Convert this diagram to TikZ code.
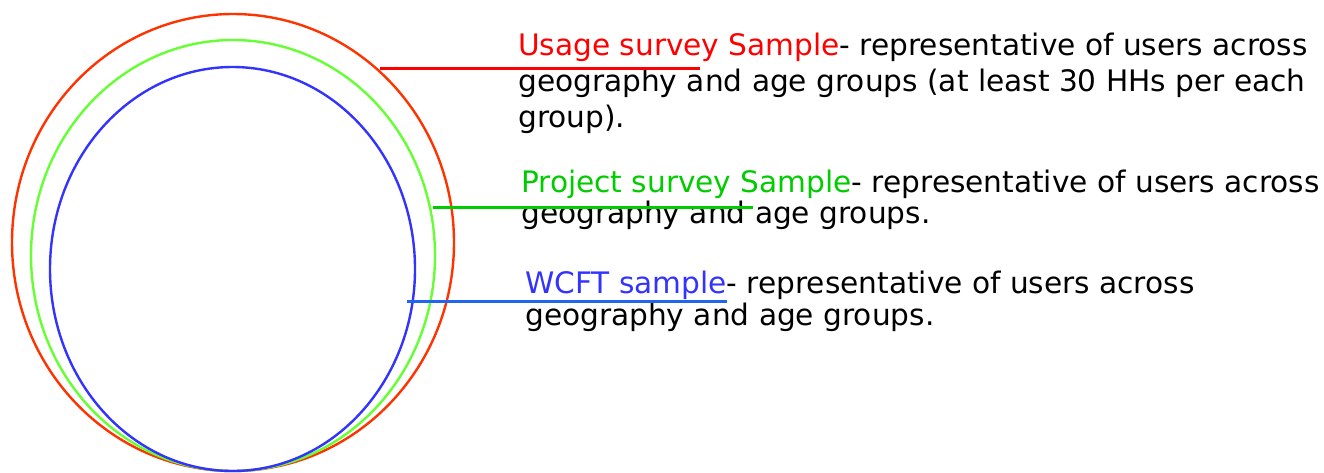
\documentclass[tikz,border=0pt]{standalone}
\usepackage{fontspec}
\setmainfont{DejaVu Sans}
\usetikzlibrary{shapes.geometric}
\definecolor{usagering}{HTML}{FF3300}
\definecolor{projectring}{HTML}{66FF33}
\definecolor{wcftring}{HTML}{3333FF}
\definecolor{usagetext}{HTML}{FF0000}
\definecolor{projecttext}{HTML}{00CC00}
\definecolor{wcfttext}{HTML}{3333FF}
\definecolor{wcftline}{HTML}{2266EE}
\tikzset{
  sample/.style  = {draw, ellipse, inner sep=0pt, line width=2.4pt},
  leader/.style  = {line width=3pt},
  caption/.style = {anchor=base west, inner sep=0pt, align=left},
  bigfont/.style = {font=\fontsize{29.6}{#1}\selectfont}
}

\begin{document}
\begin{tikzpicture}[x=1pt, y=-1pt]
  \useasboundingbox (0,0) rectangle (1324,472);
  % nested samples
  \node[sample, usagering, minimum width=442pt, minimum height=457pt] (usage) at (233,242.5) {};
  \node[sample, projectring, minimum width=404pt, minimum height=431pt] (project) at (233,255.5) {};
  \node[sample, wcftring, minimum width=365pt, minimum height=404pt] (wcft) at (232.5,269) {};
  % descriptions (placed at their last baseline)
  \node[caption, bigfont=36] (usagetxt) at (518,127)
    {\textcolor{usagetext}{Usage survey Sample}- representative of users across\\
     geography and age groups (at least 30 HHs per each\\
     group).};
  \node[caption, bigfont=31] (projecttxt) at (521,223)
    {\textcolor{projecttext}{Project survey Sample}- representative of users across\\
     geography and age groups.};
  \node[caption, bigfont=32] (wcfttxt) at (525,325)
    {\textcolor{wcfttext}{WCFT sample}- representative of users across\\
     geography and age groups.};
  % leader lines
  \coordinate (usageA) at (380,68);    \coordinate (usageB) at (700,68);
  \coordinate (projectA) at (433,207); \coordinate (projectB) at (753,207);
  \coordinate (wcftA) at (407,301.5);  \coordinate (wcftB) at (727,301.5);
  \draw[leader, usagetext] (usageA) -- (usageB);
  \draw[leader, projecttext] (projectA) -- (projectB);
  \draw[leader, wcftline] (wcftA) -- (wcftB);
\end{tikzpicture}
\end{document}
